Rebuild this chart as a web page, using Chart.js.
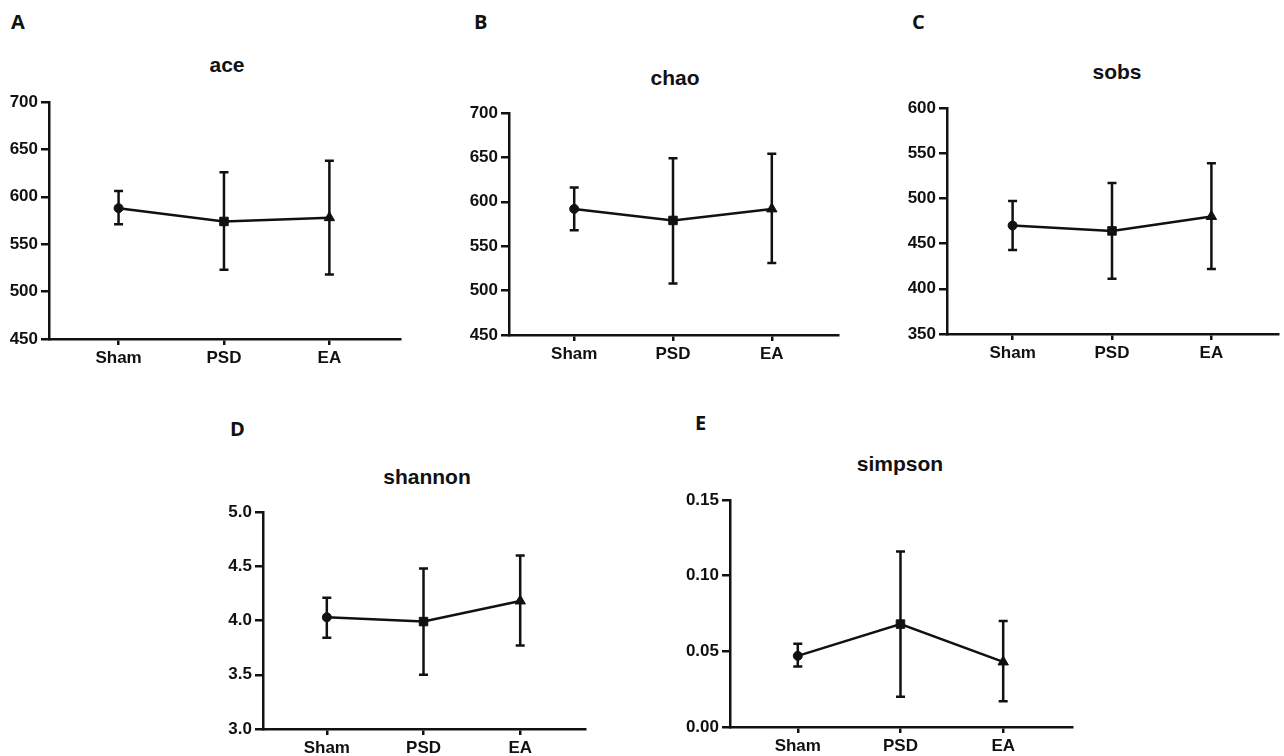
<!DOCTYPE html>
<html>
<head>
<meta charset="utf-8">
<script src="https://cdn.jsdelivr.net/npm/chart.js@4.4.1/dist/chart.umd.min.js"></script>
<style>
  html, body { margin: 0; padding: 0; background: #fff; }
  body { position: relative; width: 1284px; height: 756px; overflow: hidden; }
  .panel { position: absolute; }
  .letter { position: absolute; font: bold 20px "Open Sans", sans-serif; line-height: 1; color: #111; }
  .title { position: absolute; width: 200px; text-align: center; font: bold 21px "Liberation Sans", Arial, sans-serif; line-height: 1; color: #111; }
</style>
</head>
<body>
<div class="letter" style="left:11px;top:12px">A</div>
<div class="letter" style="left:474px;top:12px">B</div>
<div class="letter" style="left:912px;top:12px">C</div>
<div class="letter" style="left:230px;top:419px">D</div>
<div class="letter" style="left:695px;top:413px">E</div>

<div class="title" style="left:127px;top:54px">ace</div>
<div class="title" style="left:575px;top:67px">chao</div>
<div class="title" style="left:1017px;top:61px">sobs</div>
<div class="title" style="left:327px;top:466px">shannon</div>
<div class="title" style="left:800px;top:453px">simpson</div>

<script>
// groups on the x axis
var groups = ['Sham', 'PSD', 'EA'];

// ace
var aceMean = [588, 574, 578];
var aceLow  = [571, 523, 518];
var aceHigh = [606, 626, 638];
var aceTicks = [450, 500, 550, 600, 650, 700];

// chao
var chaoMean = [592, 579, 592];
var chaoLow  = [568, 508, 531];
var chaoHigh = [616, 649, 654];
var chaoTicks = [450, 500, 550, 600, 650, 700];

// sobs
var sobsMean = [470, 464, 480];
var sobsLow  = [443, 411, 422];
var sobsHigh = [497, 517, 539];
var sobsTicks = [350, 400, 450, 500, 550, 600];

// shannon
var shannonMean = [4.03, 3.99, 4.18];
var shannonLow  = [3.84, 3.50, 3.77];
var shannonHigh = [4.21, 4.48, 4.60];
var shannonTicks = [3.0, 3.5, 4.0, 4.5, 5.0];

// simpson
var simpsonMean = [0.047, 0.068, 0.043];
var simpsonLow  = [0.040, 0.020, 0.017];
var simpsonHigh = [0.055, 0.116, 0.070];
var simpsonTicks = [0.00, 0.05, 0.10, 0.15];

var ink = '#111';
Chart.defaults.font.family = '"Liberation Sans", Arial, sans-serif';
Chart.defaults.font.weight = 'bold';
Chart.defaults.font.size = 17;
Chart.defaults.color = ink;

// ── error bars drawn through the chart's own scales ──
var errorBars = {
    id: 'errorBars',
    beforeDatasetsDraw: function(chart, args, opts) {
        var xs = chart.scales.x, ys = chart.scales.y, ctx = chart.ctx;
        ctx.save();
        ctx.strokeStyle = ink;
        ctx.lineWidth = 2.5;
        opts.low.forEach(function(lo, i) {
            var x = xs.getPixelForValue(i + 1);
            var y1 = ys.getPixelForValue(lo);
            var y2 = ys.getPixelForValue(opts.high[i]);
            ctx.beginPath();
            ctx.moveTo(x, y1); ctx.lineTo(x, y2);
            ctx.moveTo(x - 4.5, y1); ctx.lineTo(x + 4.5, y1);
            ctx.moveTo(x - 4.5, y2); ctx.lineTo(x + 4.5, y2);
            ctx.stroke();
        });
        ctx.restore();
    }
};

// chart area boxes: left, right, top, bottom
var panels = [
    { id: 'ace',     box: [49, 405, 102, 339],  mean: aceMean,     low: aceLow,     high: aceHigh,     ticks: aceTicks,     dec: 0 },
    { id: 'chao',    box: [509, 843, 113, 335], mean: chaoMean,    low: chaoLow,    high: chaoHigh,    ticks: chaoTicks,    dec: 0 },
    { id: 'sobs',    box: [947, 1283, 108, 334], mean: sobsMean,   low: sobsLow,    high: sobsHigh,    ticks: sobsTicks,    dec: 0 },
    { id: 'shannon', box: [263, 590, 512, 729], mean: shannonMean, low: shannonLow, high: shannonHigh, ticks: shannonTicks, dec: 1 },
    { id: 'simpson', box: [730, 1077, 500, 727], mean: simpsonMean, low: simpsonLow, high: simpsonHigh, ticks: simpsonTicks, dec: 2 }
];

var YW = 60, XH = 40, PT = 14, PR = 2;

panels.forEach(function(p) {
    var l = p.box[0], r = p.box[1], t = p.box[2], b = p.box[3];
    var wrap = document.createElement('div');
    wrap.className = 'panel';
    wrap.style.left = (l - YW) + 'px';
    wrap.style.top = (t - PT) + 'px';
    var cv = document.createElement('canvas');
    cv.width = r - l + YW + PR;
    cv.height = b - t + PT + XH;
    wrap.appendChild(cv);
    document.body.appendChild(wrap);

    new Chart(cv.getContext('2d'), {
        type: 'line',
        data: {
            datasets: [{
                data: groups.map(function(g, i) { return { x: i + 1, y: p.mean[i] }; }),
                borderColor: ink,
                backgroundColor: ink,
                borderWidth: 2.5,
                tension: 0,
                pointStyle: ['circle', 'rect', 'triangle'],
                pointRadius: [4.5, 6, 6],
                pointBorderWidth: 1
            }]
        },
        options: {
            responsive: false,
            animation: false,
            layout: { padding: { top: PT, right: PR, left: 0, bottom: 0 } },
            plugins: {
                legend: { display: false },
                tooltip: { enabled: false },
                errorBars: { low: p.low, high: p.high }
            },
            scales: {
                x: {
                    type: 'linear', min: 0.34, max: 3.67,
                    afterBuildTicks: function(s) { s.ticks = groups.map(function(g, i) { return { value: i + 1 }; }); },
                    afterFit: function(s) { s.height = XH; },
                    ticks: { padding: 3, maxRotation: 0, autoSkip: false, callback: function(v) { return groups[v - 1]; } },
                    grid: { drawOnChartArea: false, drawTicks: true, tickLength: 6, color: ink, lineWidth: 2.5 },
                    border: { display: true, color: ink, width: 2.5 }
                },
                y: {
                    type: 'linear', min: p.ticks[0], max: p.ticks[p.ticks.length - 1],
                    afterBuildTicks: function(s) { s.ticks = p.ticks.map(function(v) { return { value: v }; }); },
                    afterFit: function(s) { s.width = YW; },
                    ticks: { padding: 3, autoSkip: false, callback: function(v) { return v.toFixed(p.dec); } },
                    grid: { drawOnChartArea: false, drawTicks: true, tickLength: 8, color: ink, lineWidth: 2.5 },
                    border: { display: true, color: ink, width: 2.5 }
                }
            }
        },
        plugins: [errorBars]
    });
});
</script>
</body>
</html>
